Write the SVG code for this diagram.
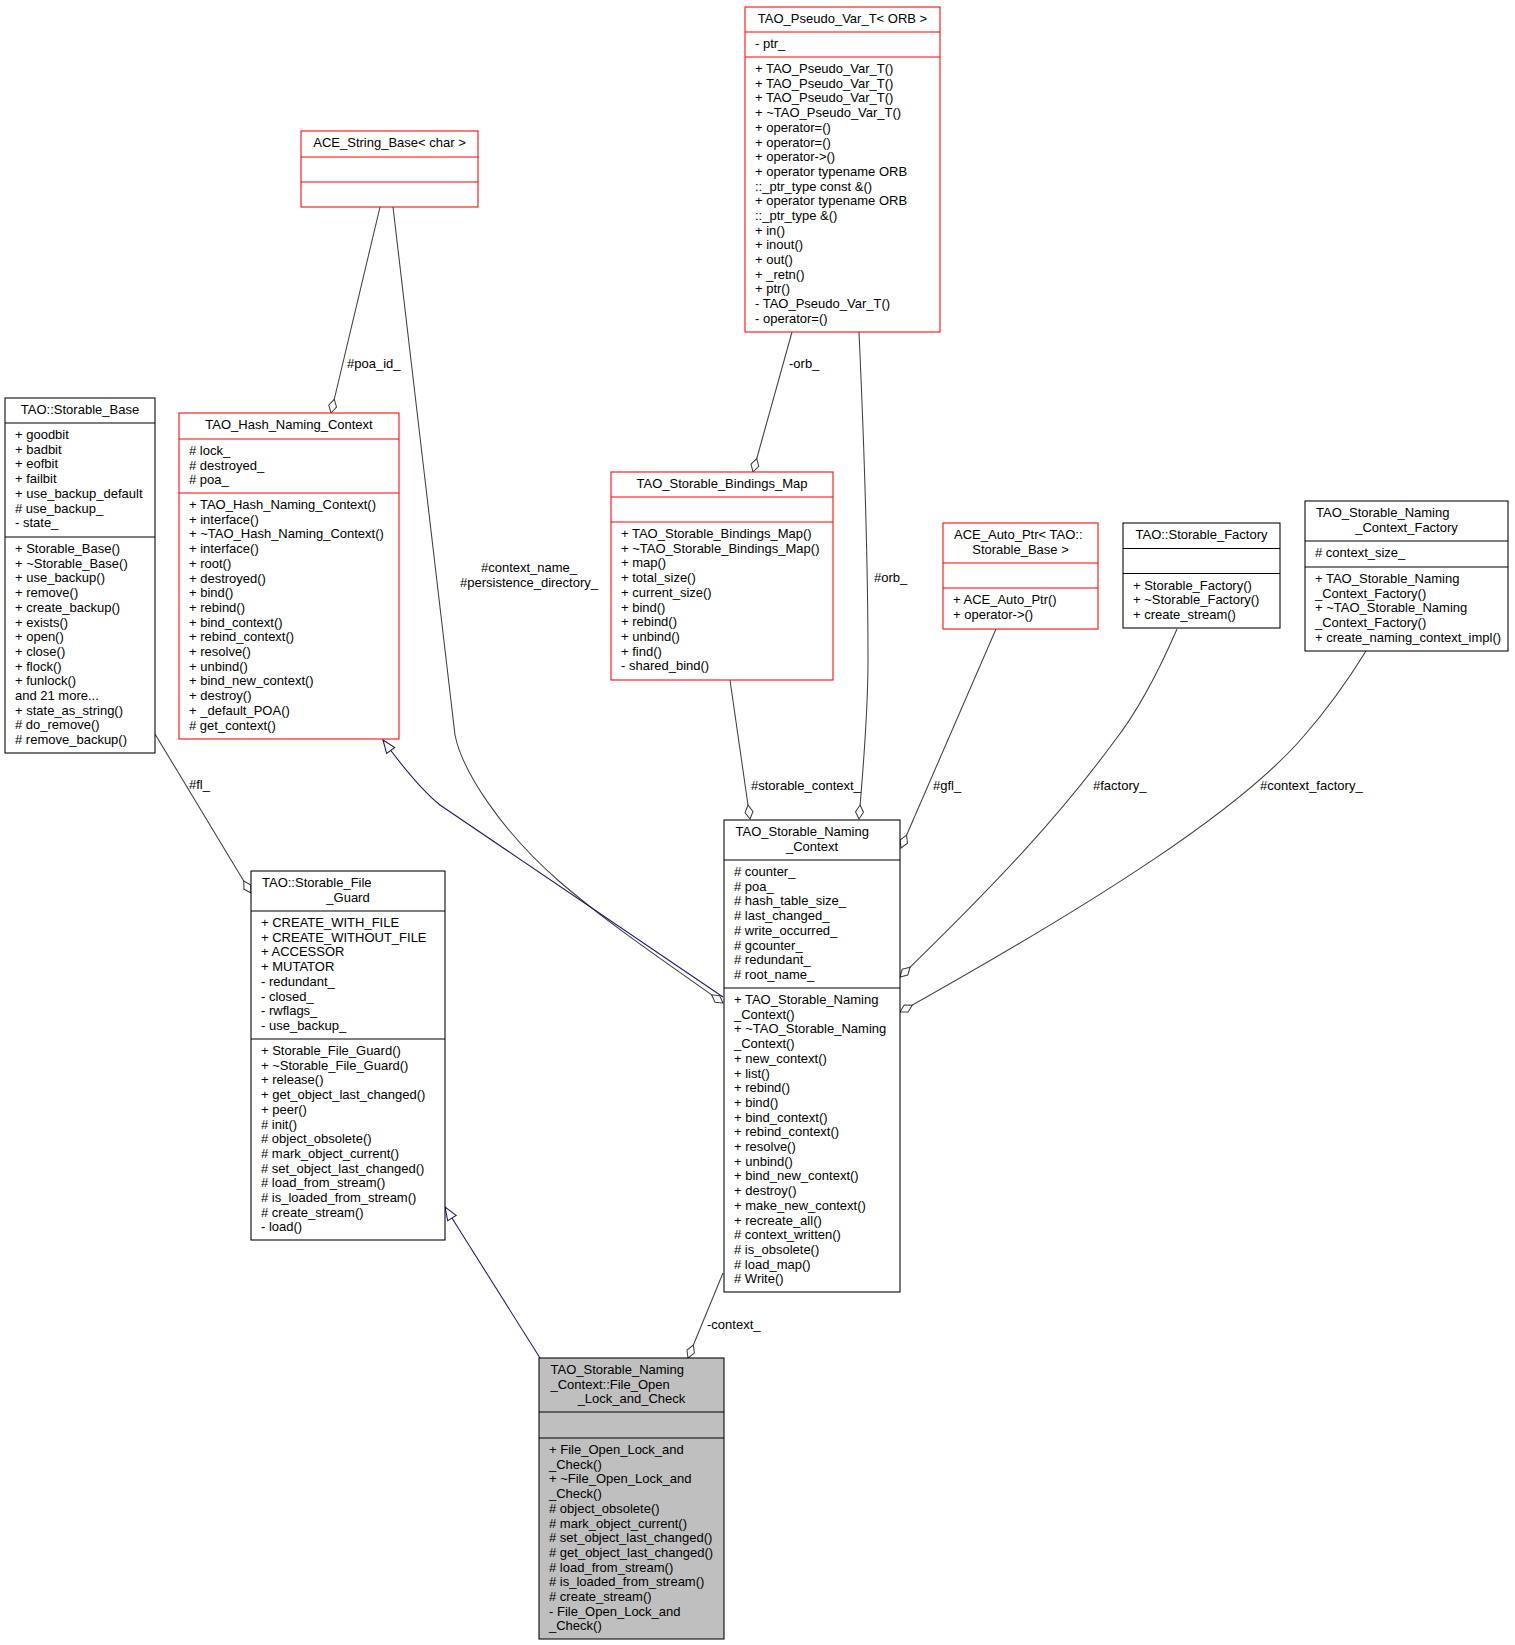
<svg xmlns="http://www.w3.org/2000/svg" width="1515" height="1645" viewBox="0 0 1515 1645">
<style>
.bx{fill:#fff;stroke:#000;stroke-width:1.05}
.rd{fill:#fff;stroke:#ff0000;stroke-width:1.05}
.gy{fill:#bfbfbf;stroke:#000;stroke-width:1.05}
.sk{stroke:#000;stroke-width:1.05}
.sr{stroke:#ff0000;stroke-width:1.05}
.t{font-family:"Liberation Sans",Arial,Helvetica,sans-serif;font-size:13px;fill:#000}
.c{text-anchor:middle}
.e{fill:none;stroke:#404040;stroke-width:1.05}
.i{fill:none;stroke:#191970;stroke-width:1.05}
</style>
<defs>
<marker id="dia" markerUnits="userSpaceOnUse" viewBox="-16 -6 18 12" refX="0" refY="0" markerWidth="18" markerHeight="12" orient="auto">
<path d="M0,0 L-7,-4 L-14,0 L-7,4 Z" fill="#fff" stroke="#404040" stroke-width="1.05"/>
</marker>
<marker id="tri" markerUnits="userSpaceOnUse" viewBox="-15 -7 17 14" refX="0" refY="0" markerWidth="17" markerHeight="14" orient="auto">
<path d="M0,0 L-13,-5 L-13,5 Z" fill="#fff" stroke="#191970" stroke-width="1.05"/>
</marker>
</defs>
<rect width="1515" height="1645" fill="#fff"/>

<g id="edges">
<path class="e" d="M380,207 L331,413" marker-end="url(#dia)"/>
<text class="t" x="347" y="368">#poa_id_</text>
<path class="e" d="M393,207 L455,735 C462,770 500,830 560,882 C610,925 670,965 723,1003" marker-end="url(#dia)"/>
<text class="t c" x="529" y="572">#context_name_</text>
<text class="t c" x="529" y="587">#persistence_directory_</text>
<path class="i" d="M723,997 L440,805 C425,793 405,770 383,740" marker-end="url(#tri)"/>
<path class="e" d="M792,332 L753,472" marker-end="url(#dia)"/>
<text class="t" x="789" y="368">-orb_</text>
<path class="e" d="M859,332 C863,420 868,560 868,660 C868,720 862,780 859,819" marker-end="url(#dia)"/>
<text class="t" x="874" y="582">#orb_</text>
<path class="e" d="M730,680 L750,819" marker-end="url(#dia)"/>
<text class="t" x="751" y="790">#storable_context_</text>
<path class="e" d="M996,629 L901,848" marker-end="url(#dia)"/>
<text class="t" x="933" y="790">#gfl_</text>
<path class="e" d="M1177,629 C1155,680 1135,715 1113,743 C1060,815 1000,880 900,977" marker-end="url(#dia)"/>
<text class="t" x="1093" y="790">#factory_</text>
<path class="e" d="M1366,651 C1345,685 1325,712 1303,737 C1240,810 1100,900 900,1012" marker-end="url(#dia)"/>
<text class="t" x="1260" y="790">#context_factory_</text>
<path class="e" d="M155,734 L251,893" marker-end="url(#dia)"/>
<text class="t" x="189" y="789">#fl_</text>
<path class="i" d="M540,1358 L445,1207" marker-end="url(#tri)"/>
<path class="e" d="M723,1273 L688,1358" marker-end="url(#dia)"/>
<text class="t" x="707" y="1329">-context_</text>
</g>

<g id="node_storable_base">
<rect class="bx" x="5" y="398" width="150" height="355"/>
<line class="sk" x1="5" y1="423" x2="155" y2="423"/>
<line class="sk" x1="5" y1="537" x2="155" y2="537"/>
<text class="t c" x="80" y="414">TAO::Storable_Base</text>
<text class="t" y="439"><tspan x="15">+ goodbit</tspan><tspan x="15" dy="14.7">+ badbit</tspan><tspan x="15" dy="14.7">+ eofbit</tspan><tspan x="15" dy="14.7">+ failbit</tspan><tspan x="15" dy="14.7">+ use_backup_default</tspan><tspan x="15" dy="14.7"># use_backup_</tspan><tspan x="15" dy="14.7">- state_</tspan></text>
<text class="t" y="553"><tspan x="15">+ Storable_Base()</tspan><tspan x="15" dy="14.7">+ ~Storable_Base()</tspan><tspan x="15" dy="14.7">+ use_backup()</tspan><tspan x="15" dy="14.7">+ remove()</tspan><tspan x="15" dy="14.7">+ create_backup()</tspan><tspan x="15" dy="14.7">+ exists()</tspan><tspan x="15" dy="14.7">+ open()</tspan><tspan x="15" dy="14.7">+ close()</tspan><tspan x="15" dy="14.7">+ flock()</tspan><tspan x="15" dy="14.7">+ funlock()</tspan><tspan x="15" dy="14.7">and 21 more...</tspan><tspan x="15" dy="14.7">+ state_as_string()</tspan><tspan x="15" dy="14.7"># do_remove()</tspan><tspan x="15" dy="14.7"># remove_backup()</tspan></text>
</g>

<g id="node_hash_naming_context">
<rect class="rd" x="179" y="413" width="220" height="326"/>
<line class="sr" x1="179" y1="439" x2="399" y2="439"/>
<line class="sr" x1="179" y1="493" x2="399" y2="493"/>
<text class="t c" x="289" y="429">TAO_Hash_Naming_Context</text>
<text class="t" y="455"><tspan x="189"># lock_</tspan><tspan x="189" dy="14.7"># destroyed_</tspan><tspan x="189" dy="14.7"># poa_</tspan></text>
<text class="t" y="509"><tspan x="189">+ TAO_Hash_Naming_Context()</tspan><tspan x="189" dy="14.7">+ interface()</tspan><tspan x="189" dy="14.7">+ ~TAO_Hash_Naming_Context()</tspan><tspan x="189" dy="14.7">+ interface()</tspan><tspan x="189" dy="14.7">+ root()</tspan><tspan x="189" dy="14.7">+ destroyed()</tspan><tspan x="189" dy="14.7">+ bind()</tspan><tspan x="189" dy="14.7">+ rebind()</tspan><tspan x="189" dy="14.7">+ bind_context()</tspan><tspan x="189" dy="14.7">+ rebind_context()</tspan><tspan x="189" dy="14.7">+ resolve()</tspan><tspan x="189" dy="14.7">+ unbind()</tspan><tspan x="189" dy="14.7">+ bind_new_context()</tspan><tspan x="189" dy="14.7">+ destroy()</tspan><tspan x="189" dy="14.7">+ _default_POA()</tspan><tspan x="189" dy="14.7"># get_context()</tspan></text>
</g>

<g id="node_ace_string_base">
<rect class="rd" x="301" y="131" width="177" height="76"/>
<line class="sr" x1="301" y1="157" x2="478" y2="157"/>
<line class="sr" x1="301" y1="182" x2="478" y2="182"/>
<text class="t c" x="389.5" y="147">ACE_String_Base&lt; char &gt;</text>
</g>

<g id="node_pseudo_var_t">
<rect class="rd" x="745" y="7" width="195" height="325"/>
<line class="sr" x1="745" y1="32" x2="940" y2="32"/>
<line class="sr" x1="745" y1="57" x2="940" y2="57"/>
<text class="t c" x="842.5" y="23">TAO_Pseudo_Var_T&lt; ORB &gt;</text>
<text class="t" x="755" y="48">- ptr_</text>
<text class="t" y="73"><tspan x="755">+ TAO_Pseudo_Var_T()</tspan><tspan x="755" dy="14.7">+ TAO_Pseudo_Var_T()</tspan><tspan x="755" dy="14.7">+ TAO_Pseudo_Var_T()</tspan><tspan x="755" dy="14.7">+ ~TAO_Pseudo_Var_T()</tspan><tspan x="755" dy="14.7">+ operator=()</tspan><tspan x="755" dy="14.7">+ operator=()</tspan><tspan x="755" dy="14.7">+ operator-&gt;()</tspan><tspan x="755" dy="14.7">+ operator typename ORB</tspan><tspan x="755" dy="14.7">::_ptr_type const &amp;()</tspan><tspan x="755" dy="14.7">+ operator typename ORB</tspan><tspan x="755" dy="14.7">::_ptr_type &amp;()</tspan><tspan x="755" dy="14.7">+ in()</tspan><tspan x="755" dy="14.7">+ inout()</tspan><tspan x="755" dy="14.7">+ out()</tspan><tspan x="755" dy="14.7">+ _retn()</tspan><tspan x="755" dy="14.7">+ ptr()</tspan><tspan x="755" dy="14.7">- TAO_Pseudo_Var_T()</tspan><tspan x="755" dy="14.7">- operator=()</tspan></text>
</g>

<g id="node_storable_bindings_map">
<rect class="rd" x="611" y="472" width="222" height="208"/>
<line class="sr" x1="611" y1="497" x2="833" y2="497"/>
<line class="sr" x1="611" y1="522" x2="833" y2="522"/>
<text class="t c" x="722" y="488">TAO_Storable_Bindings_Map</text>
<text class="t" y="538"><tspan x="621">+ TAO_Storable_Bindings_Map()</tspan><tspan x="621" dy="14.7">+ ~TAO_Storable_Bindings_Map()</tspan><tspan x="621" dy="14.7">+ map()</tspan><tspan x="621" dy="14.7">+ total_size()</tspan><tspan x="621" dy="14.7">+ current_size()</tspan><tspan x="621" dy="14.7">+ bind()</tspan><tspan x="621" dy="14.7">+ rebind()</tspan><tspan x="621" dy="14.7">+ unbind()</tspan><tspan x="621" dy="14.7">+ find()</tspan><tspan x="621" dy="14.7">- shared_bind()</tspan></text>
</g>

<g id="node_ace_auto_ptr">
<rect class="rd" x="943" y="523" width="155" height="106"/>
<line class="sr" x1="943" y1="563" x2="1098" y2="563"/>
<line class="sr" x1="943" y1="588" x2="1098" y2="588"/>
<text class="t" x="954" y="539">ACE_Auto_Ptr&lt; TAO::</text>
<text class="t c" x="1020.5" y="553.7">Storable_Base &gt;</text>
<text class="t" y="604"><tspan x="953">+ ACE_Auto_Ptr()</tspan><tspan x="953" dy="14.7">+ operator-&gt;()</tspan></text>
</g>

<g id="node_storable_factory">
<rect class="bx" x="1123" y="523" width="157" height="105"/>
<line class="sk" x1="1123" y1="548.5" x2="1280" y2="548.5"/>
<line class="sk" x1="1123" y1="573.5" x2="1280" y2="573.5"/>
<text class="t c" x="1201.5" y="539">TAO::Storable_Factory</text>
<text class="t" y="589.5"><tspan x="1133">+ Storable_Factory()</tspan><tspan x="1133" dy="14.7">+ ~Storable_Factory()</tspan><tspan x="1133" dy="14.7">+ create_stream()</tspan></text>
</g>

<g id="node_naming_context_factory">
<rect class="bx" x="1305" y="501" width="203" height="150"/>
<line class="sk" x1="1305" y1="541" x2="1508" y2="541"/>
<line class="sk" x1="1305" y1="567" x2="1508" y2="567"/>
<text class="t" x="1316" y="517">TAO_Storable_Naming</text>
<text class="t c" x="1406.5" y="531.7">_Context_Factory</text>
<text class="t" x="1315" y="557"># context_size_</text>
<text class="t" y="583"><tspan x="1315">+ TAO_Storable_Naming</tspan><tspan x="1315" dy="14.7">_Context_Factory()</tspan><tspan x="1315" dy="14.7">+ ~TAO_Storable_Naming</tspan><tspan x="1315" dy="14.7">_Context_Factory()</tspan><tspan x="1315" dy="14.7">+ create_naming_context_impl()</tspan></text>
</g>

<g id="node_storable_naming_context">
<rect class="bx" x="724" y="820" width="176" height="472"/>
<line class="sk" x1="724" y1="860" x2="900" y2="860"/>
<line class="sk" x1="724" y1="988" x2="900" y2="988"/>
<text class="t" x="735.5" y="836">TAO_Storable_Naming</text>
<text class="t c" x="812" y="850.7">_Context</text>
<text class="t" y="876"><tspan x="734"># counter_</tspan><tspan x="734" dy="14.7"># poa_</tspan><tspan x="734" dy="14.7"># hash_table_size_</tspan><tspan x="734" dy="14.7"># last_changed_</tspan><tspan x="734" dy="14.7"># write_occurred_</tspan><tspan x="734" dy="14.7"># gcounter_</tspan><tspan x="734" dy="14.7"># redundant_</tspan><tspan x="734" dy="14.7"># root_name_</tspan></text>
<text class="t" y="1004"><tspan x="734">+ TAO_Storable_Naming</tspan><tspan x="734" dy="14.7">_Context()</tspan><tspan x="734" dy="14.7">+ ~TAO_Storable_Naming</tspan><tspan x="734" dy="14.7">_Context()</tspan><tspan x="734" dy="14.7">+ new_context()</tspan><tspan x="734" dy="14.7">+ list()</tspan><tspan x="734" dy="14.7">+ rebind()</tspan><tspan x="734" dy="14.7">+ bind()</tspan><tspan x="734" dy="14.7">+ bind_context()</tspan><tspan x="734" dy="14.7">+ rebind_context()</tspan><tspan x="734" dy="14.7">+ resolve()</tspan><tspan x="734" dy="14.7">+ unbind()</tspan><tspan x="734" dy="14.7">+ bind_new_context()</tspan><tspan x="734" dy="14.7">+ destroy()</tspan><tspan x="734" dy="14.7">+ make_new_context()</tspan><tspan x="734" dy="14.7">+ recreate_all()</tspan><tspan x="734" dy="14.7"># context_written()</tspan><tspan x="734" dy="14.7"># is_obsolete()</tspan><tspan x="734" dy="14.7"># load_map()</tspan><tspan x="734" dy="14.7"># Write()</tspan></text>
</g>

<g id="node_storable_file_guard">
<rect class="bx" x="251" y="871" width="194" height="369"/>
<line class="sk" x1="251" y1="911" x2="445" y2="911"/>
<line class="sk" x1="251" y1="1039" x2="445" y2="1039"/>
<text class="t" x="262" y="887">TAO::Storable_File</text>
<text class="t c" x="348" y="901.7">_Guard</text>
<text class="t" y="927"><tspan x="261">+ CREATE_WITH_FILE</tspan><tspan x="261" dy="14.7">+ CREATE_WITHOUT_FILE</tspan><tspan x="261" dy="14.7">+ ACCESSOR</tspan><tspan x="261" dy="14.7">+ MUTATOR</tspan><tspan x="261" dy="14.7">- redundant_</tspan><tspan x="261" dy="14.7">- closed_</tspan><tspan x="261" dy="14.7">- rwflags_</tspan><tspan x="261" dy="14.7">- use_backup_</tspan></text>
<text class="t" y="1055"><tspan x="261">+ Storable_File_Guard()</tspan><tspan x="261" dy="14.7">+ ~Storable_File_Guard()</tspan><tspan x="261" dy="14.7">+ release()</tspan><tspan x="261" dy="14.7">+ get_object_last_changed()</tspan><tspan x="261" dy="14.7">+ peer()</tspan><tspan x="261" dy="14.7"># init()</tspan><tspan x="261" dy="14.7"># object_obsolete()</tspan><tspan x="261" dy="14.7"># mark_object_current()</tspan><tspan x="261" dy="14.7"># set_object_last_changed()</tspan><tspan x="261" dy="14.7"># load_from_stream()</tspan><tspan x="261" dy="14.7"># is_loaded_from_stream()</tspan><tspan x="261" dy="14.7"># create_stream()</tspan><tspan x="261" dy="14.7">- load()</tspan></text>
</g>

<g id="node_file_open_lock_and_check">
<rect class="gy" x="539" y="1358" width="185" height="281"/>
<line class="sk" x1="539" y1="1412" x2="724" y2="1412"/>
<line class="sk" x1="539" y1="1438" x2="724" y2="1438"/>
<text class="t" x="550.5" y="1374">TAO_Storable_Naming</text>
<text class="t" x="550.5" y="1388.7">_Context::File_Open</text>
<text class="t c" x="631.5" y="1403.4">_Lock_and_Check</text>
<text class="t" y="1454"><tspan x="549">+ File_Open_Lock_and</tspan><tspan x="549" dy="14.7">_Check()</tspan><tspan x="549" dy="14.7">+ ~File_Open_Lock_and</tspan><tspan x="549" dy="14.7">_Check()</tspan><tspan x="549" dy="14.7"># object_obsolete()</tspan><tspan x="549" dy="14.7"># mark_object_current()</tspan><tspan x="549" dy="14.7"># set_object_last_changed()</tspan><tspan x="549" dy="14.7"># get_object_last_changed()</tspan><tspan x="549" dy="14.7"># load_from_stream()</tspan><tspan x="549" dy="14.7"># is_loaded_from_stream()</tspan><tspan x="549" dy="14.7"># create_stream()</tspan><tspan x="549" dy="14.7">- File_Open_Lock_and</tspan><tspan x="549" dy="14.7">_Check()</tspan></text>
</g>
</svg>
